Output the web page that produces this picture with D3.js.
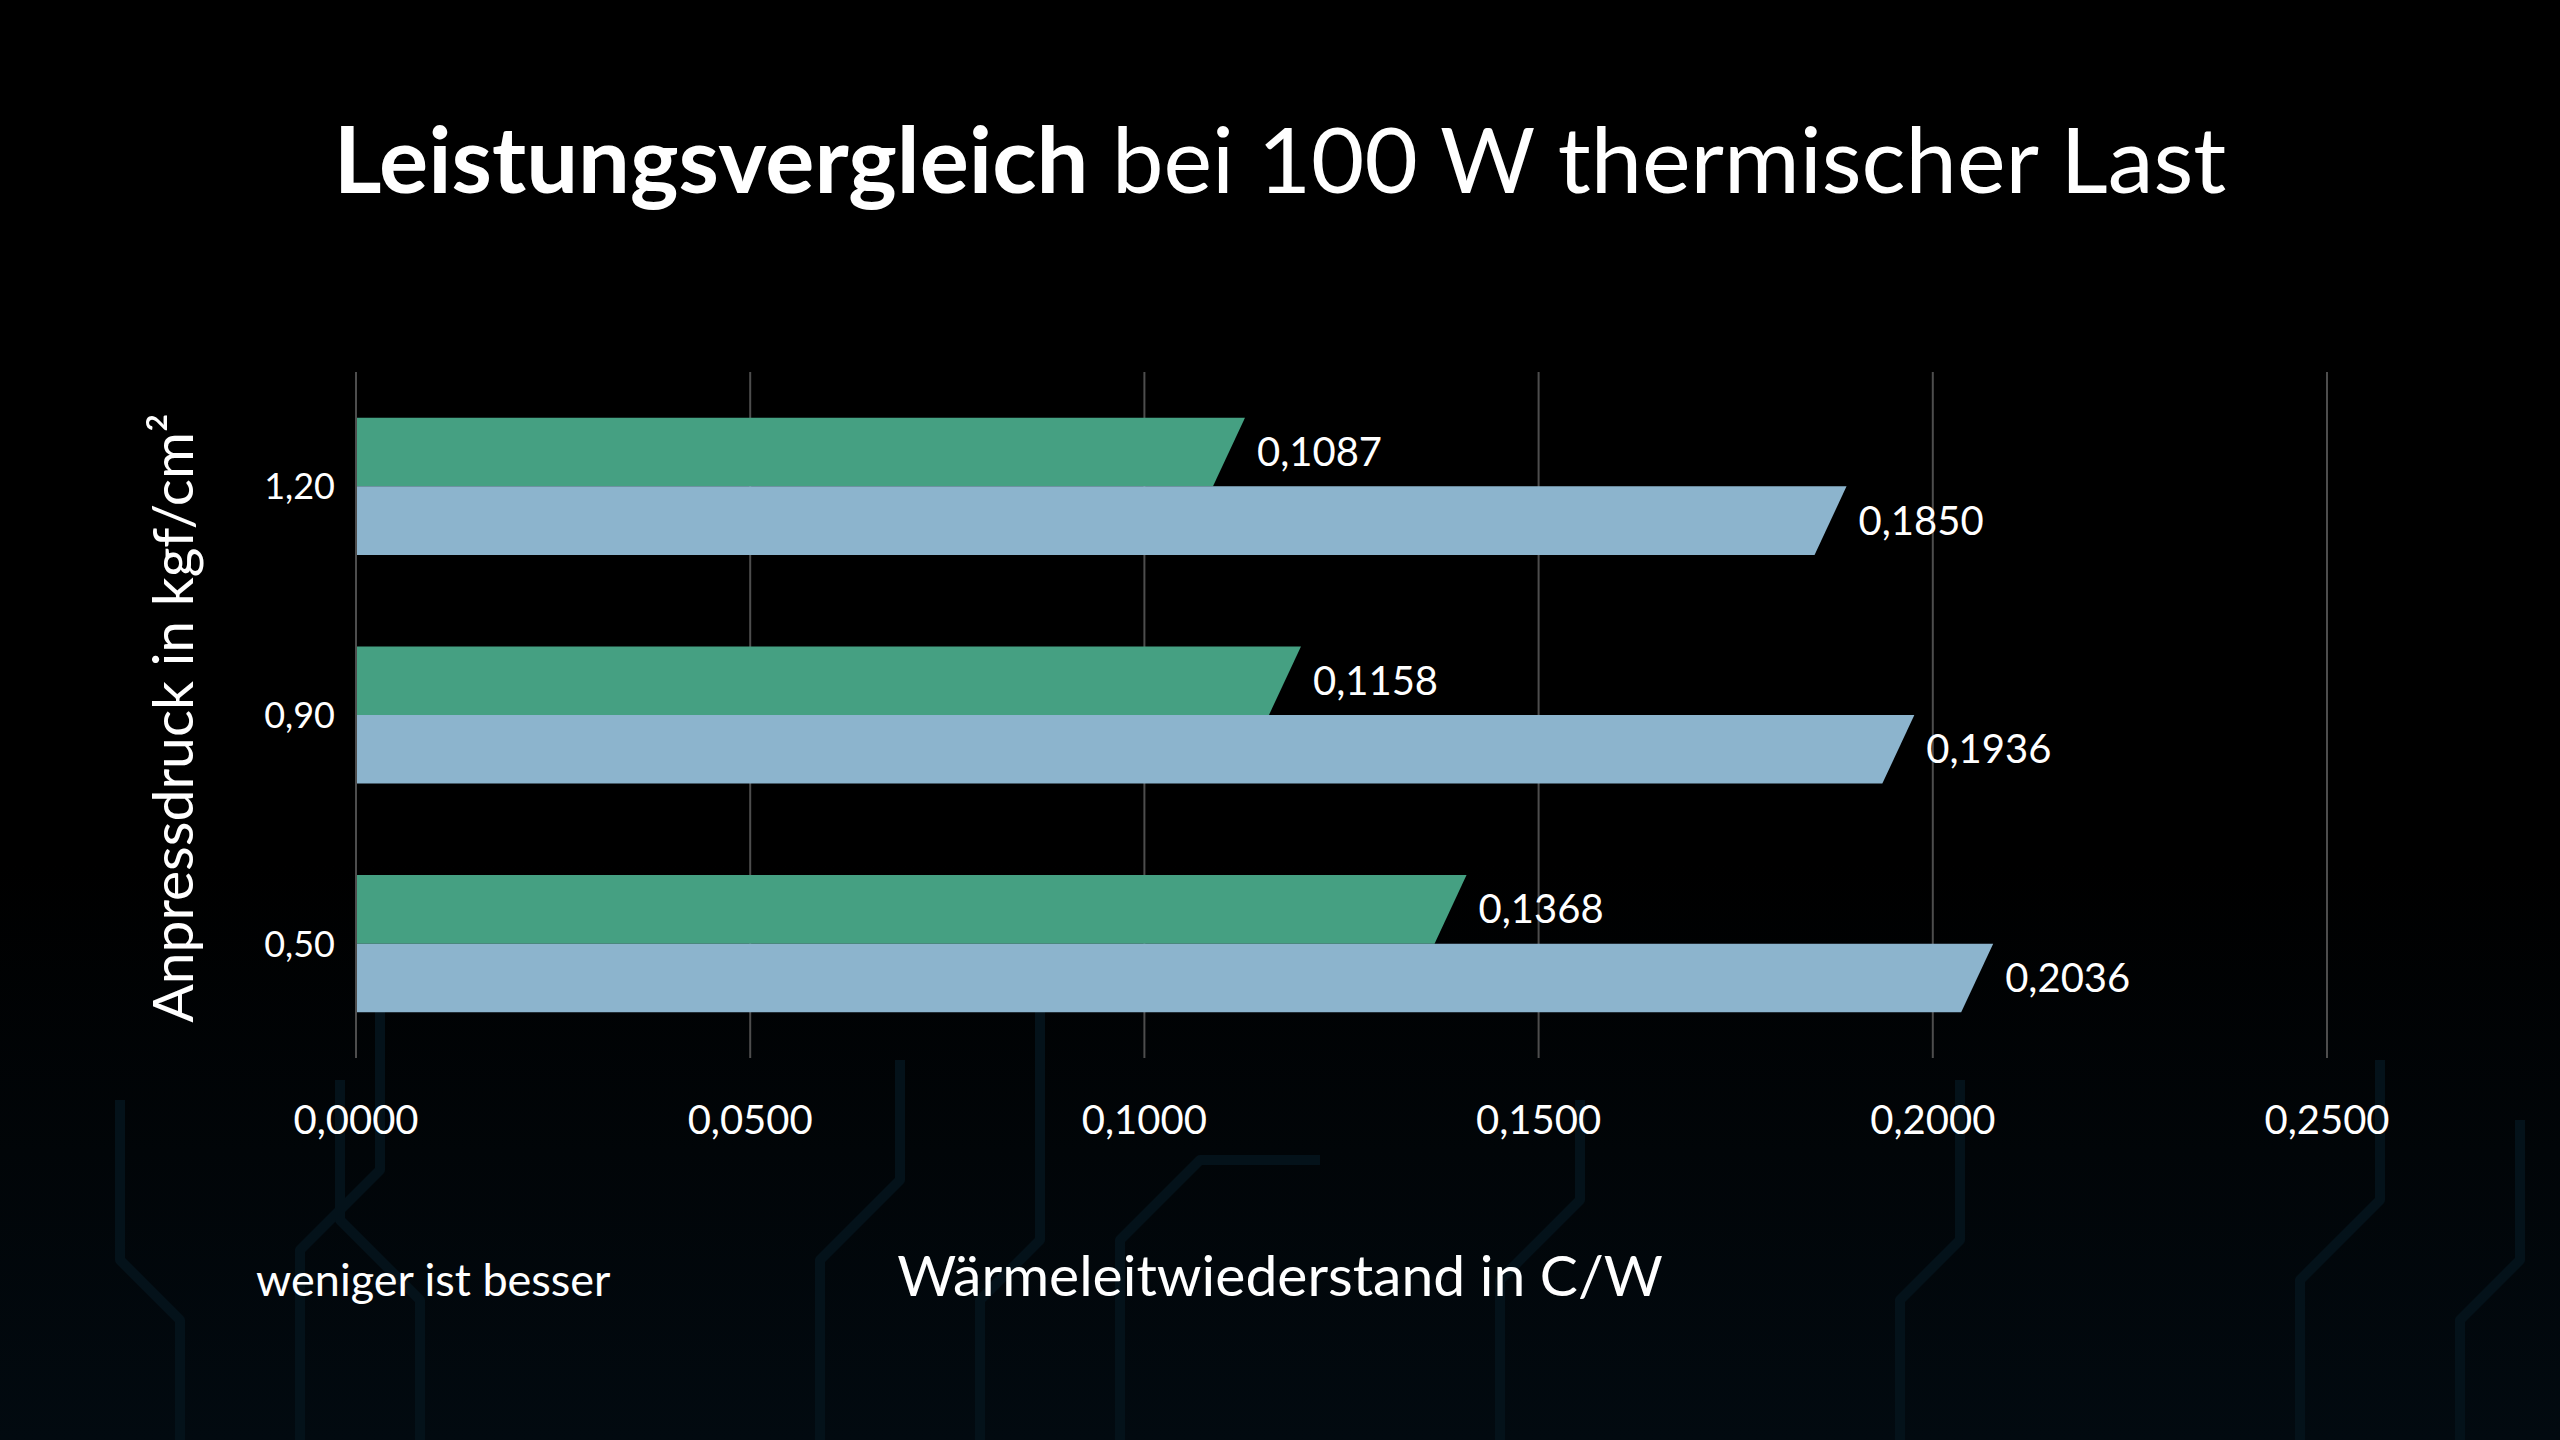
<!DOCTYPE html>
<html>
<head>
<meta charset="utf-8">
<script src="https://cdn.jsdelivr.net/npm/d3@7"></script>
<style>
  html, body { margin: 0; padding: 0; background: #000; }
  svg { display: block; font-family: Lato, "Noto Sans", sans-serif; }
</style>
</head>
<body>
<div id="chart"></div>
<script>
// pressure levels (top to bottom) and thermal resistance per series
var categories = ["1,20", "0,90", "0,50"];
var seriesNames = ["green", "blue"];
var greenValues = [0.1087, 0.1158, 0.1368];
var blueValues = [0.1850, 0.1936, 0.2036];
var xTicks = [0, 0.05, 0.1, 0.15, 0.2, 0.25];

var width = 2560, height = 1440;
var margin = {top: 372, right: 233, bottom: 382, left: 356};
var colors = {green: "#45a082", blue: "#8cb4cd"};

var rows = categories.map(function(c, i) {
  return {cat: c, values: [greenValues[i], blueValues[i]]};
});

var svg = d3.select("#chart").append("svg")
  .attr("width", width)
  .attr("height", height);

// faint circuit-board background
var defs = svg.append("defs");
var grad = defs.append("linearGradient")
  .attr("id", "bg").attr("x1", 0).attr("y1", 0).attr("x2", 0).attr("y2", 1);
grad.append("stop").attr("offset", "0%").attr("stop-color", "#000");
grad.append("stop").attr("offset", "60%").attr("stop-color", "#000");
grad.append("stop").attr("offset", "100%").attr("stop-color", "#020a10");
svg.append("rect").attr("width", width).attr("height", height).attr("fill", "url(#bg)");

var traces = [
  [[300, 1440], [300, 1250], [380, 1170], [380, 1000]],
  [[420, 1440], [420, 1300], [340, 1220], [340, 1080]],
  [[180, 1440], [180, 1320], [120, 1260], [120, 1100]],
  [[820, 1440], [820, 1260], [900, 1180], [900, 1060]],
  [[980, 1440], [980, 1300], [1040, 1240], [1040, 1000]],
  [[1120, 1440], [1120, 1240], [1200, 1160], [1320, 1160]],
  [[1500, 1440], [1500, 1280], [1580, 1200], [1580, 1100]],
  [[1900, 1440], [1900, 1300], [1960, 1240], [1960, 1080]],
  [[2300, 1440], [2300, 1280], [2380, 1200], [2380, 1060]],
  [[2460, 1440], [2460, 1320], [2520, 1260], [2520, 1120]]
];
svg.append("g")
  .selectAll("path")
  .data(traces)
  .join("path")
  .attr("d", d3.line())
  .attr("fill", "none")
  .attr("stroke", "#04121a")
  .attr("stroke-width", 10)
  .attr("stroke-linejoin", "round");

var x = d3.scaleLinear()
  .domain([0, 0.25])
  .range([margin.left, width - margin.right]);

var y0 = d3.scaleBand()
  .domain(categories)
  .range([margin.top, height - margin.bottom]);

var groupH = y0.bandwidth() * 0.6;
var y1 = d3.scaleBand()
  .domain(seriesNames)
  .range([0, groupH]);

var fmt = function(v) { return d3.format(".4f")(v).replace(".", ","); };

// vertical gridlines
svg.append("g")
  .selectAll("line")
  .data(xTicks)
  .join("line")
  .attr("x1", function(d) { return x(d); })
  .attr("x2", function(d) { return x(d); })
  .attr("y1", margin.top)
  .attr("y2", height - margin.bottom)
  .attr("stroke", "#4d4d4d")
  .attr("stroke-width", 2);

// x tick labels
svg.append("g")
  .selectAll("text")
  .data(xTicks)
  .join("text")
  .attr("x", function(d) { return x(d); })
  .attr("y", 1134)
  .attr("text-anchor", "middle")
  .attr("fill", "#fff")
  .attr("font-size", 40)
  .text(fmt);

// y tick labels
svg.append("g")
  .selectAll("text")
  .data(categories)
  .join("text")
  .attr("x", 335)
  .attr("y", function(d) { return y0(d) + y0.bandwidth() / 2 + 13; })
  .attr("text-anchor", "end")
  .attr("fill", "#fff")
  .attr("font-size", 36)
  .text(function(d) { return d; });

// bars with slanted right end
var slant = 32;
var groups = svg.append("g")
  .selectAll("g")
  .data(rows)
  .join("g")
  .attr("transform", function(d) {
    return "translate(0," + (y0(d.cat) + (y0.bandwidth() - groupH) / 2) + ")";
  });

var bars = groups.selectAll("g")
  .data(function(d) {
    return d.values.map(function(v, i) { return {series: seriesNames[i], value: v}; });
  })
  .join("g");

bars.append("path")
  .attr("d", function(d) {
    var t = y1(d.series), b = t + y1.bandwidth();
    var x0 = x(0), xv = x(d.value);
    return "M" + x0 + "," + t + "L" + (xv + slant) + "," + t +
           "L" + xv + "," + b + "L" + x0 + "," + b + "Z";
  })
  .attr("fill", function(d) { return colors[d.series]; });

bars.append("text")
  .attr("x", function(d) { return x(d.value) + slant + 12; })
  .attr("y", function(d) { return y1(d.series) + y1.bandwidth() / 2 + 14; })
  .attr("fill", "#fff")
  .attr("font-size", 40)
  .text(function(d) { return fmt(d.value); });

// y axis line
svg.append("line")
  .attr("x1", x(0)).attr("x2", x(0))
  .attr("y1", margin.top).attr("y2", height - margin.bottom)
  .attr("stroke", "#4d4d4d").attr("stroke-width", 2);

// title
var title = svg.append("text")
  .attr("x", width / 2)
  .attr("y", 193)
  .attr("text-anchor", "middle")
  .attr("fill", "#fff")
  .attr("font-size", 92);
title.append("tspan").attr("font-weight", 700).text("Leistungsvergleich");
title.append("tspan").text(" bei 100 W thermischer Last");

// axis titles
svg.append("text")
  .attr("transform", "translate(193," + 718 + ") rotate(-90)")
  .attr("text-anchor", "middle")
  .attr("fill", "#fff")
  .attr("font-size", 57)
  .text("Anpressdruck in kgf/cm²");

svg.append("text")
  .attr("x", width / 2)
  .attr("y", 1296)
  .attr("text-anchor", "middle")
  .attr("fill", "#fff")
  .attr("font-size", 57)
  .text("Wärmeleitwiederstand in C/W");

svg.append("text")
  .attr("x", 256)
  .attr("y", 1296)
  .attr("fill", "#fff")
  .attr("font-size", 45)
  .text("weniger ist besser");
</script>
</body>
</html>
